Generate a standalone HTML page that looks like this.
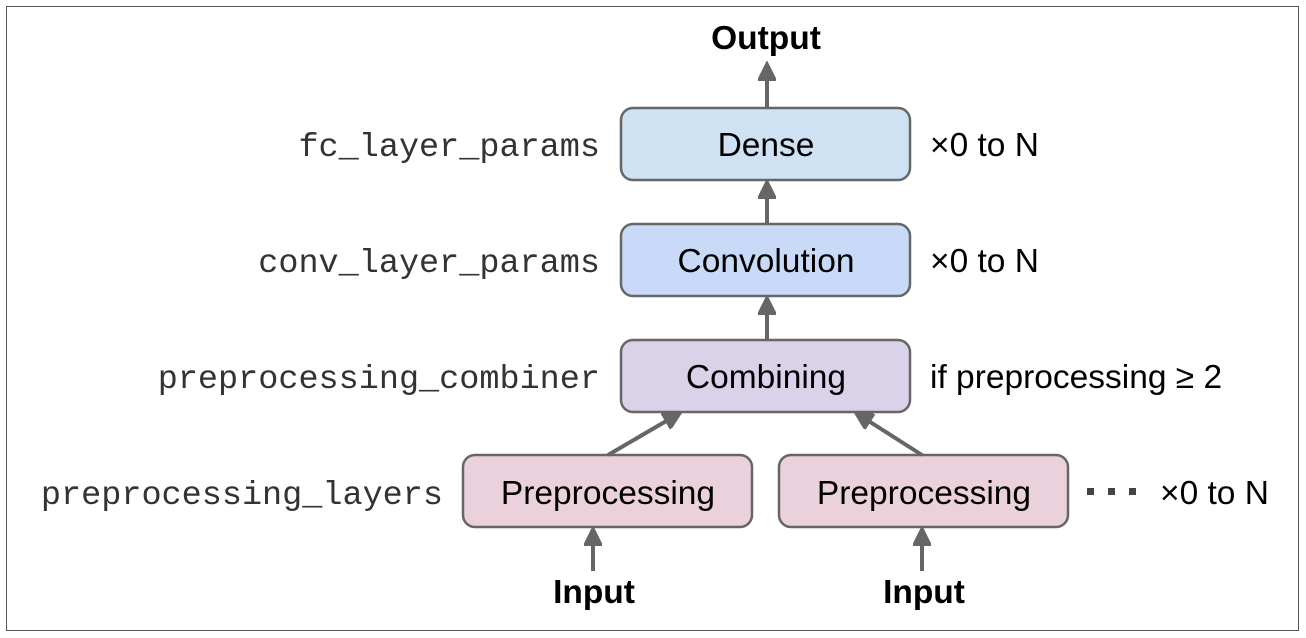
<!DOCTYPE html>
<html><head><style>
body{margin:0;background:#fff;}
svg{display:block;}
.b{fill:#000;font-family:"Liberation Sans",sans-serif;font-size:33.5px;}
.m{font-family:"Liberation Mono",monospace;font-size:33.5px;fill:#333;}
</style></head><body>
<svg width="1306" height="638" viewBox="0 0 1306 638">
<defs>
<marker id="h" viewBox="0 0 10 10" refX="9" refY="5" markerWidth="20" markerHeight="18" orient="auto" markerUnits="userSpaceOnUse"><path d="M0,0 L10,5 L0,10 z" fill="#666" stroke="#666"/></marker></defs>
<rect x="6.5" y="6.5" width="1292" height="624" fill="none" stroke="#555" stroke-width="1"/>
<g stroke="#666" stroke-width="2.5">
<rect x="621" y="108" width="289" height="72" rx="12" fill="#cfe2f3"/>
<rect x="621" y="224" width="289" height="72" rx="12" fill="#c9daf8"/>
<rect x="621" y="340" width="289" height="72" rx="12" fill="#d9d2e9"/>
<rect x="463" y="455" width="289" height="72" rx="12" fill="#ead1dc"/>
<rect x="779" y="455" width="289" height="72" rx="12" fill="#ead1dc"/>
</g>
<g stroke="#666" stroke-width="4" marker-end="url(#h)" fill="none">
<line x1="767" y1="107" x2="767" y2="64"/>
<line x1="767" y1="223" x2="767" y2="182"/>
<line x1="767" y1="339" x2="767" y2="298"/>
<line x1="608" y1="455" x2="680" y2="413"/>
<line x1="922" y1="455" x2="856" y2="413"/>
<line x1="593" y1="571" x2="593" y2="529"/>
<line x1="922" y1="571" x2="922" y2="529"/>
</g>
<g class="b" text-anchor="middle">
<text x="766" y="49" font-weight="bold">Output</text>
<text x="766" y="156">Dense</text>
<text x="766" y="272">Convolution</text>
<text x="766" y="388">Combining</text>
<text x="608" y="504">Preprocessing</text>
<text x="924" y="504">Preprocessing</text>
<text x="594" y="603" font-weight="bold">Input</text>
<text x="924" y="603" font-weight="bold">Input</text>
</g>
<g class="b">
<text x="930" y="156">×0 to N</text>
<text x="930" y="272">×0 to N</text>
<text x="930" y="388">if preprocessing ≥ 2</text>
<text x="1160" y="504">×0 to N</text>
</g>
<g fill="#444"><rect x="1087" y="488" width="7" height="7"/><rect x="1108" y="488" width="7" height="7"/><rect x="1129" y="488" width="7" height="7"/></g>
<g class="m" text-anchor="end">
<text x="600" y="156">fc_layer_params</text>
<text x="600" y="272">conv_layer_params</text>
<text x="600" y="388">preprocessing_combiner</text>
<text x="443" y="504">preprocessing_layers</text>
</g>
</svg>
</body></html>
